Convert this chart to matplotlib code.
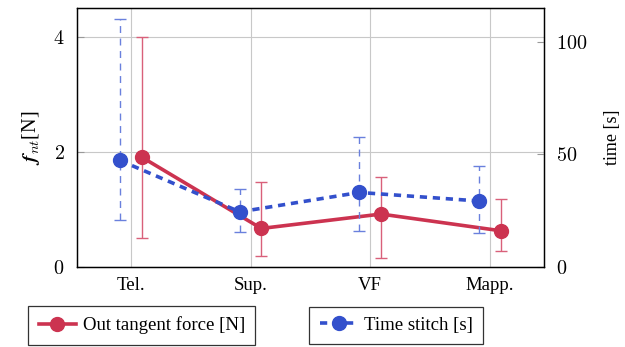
import matplotlib.pyplot as plt
from matplotlib.ticker import FuncFormatter
import numpy as np

plt.rcParams['font.family'] = ['Liberation Serif', 'DejaVu Serif']
plt.rcParams['mathtext.fontset'] = 'cm'

# ─── data ───
methods = ["Tel.", "Sup.", "VF", "Mapp."]
force_mean = [1.91, 0.67, 0.92, 0.63]
force_low = [0.50, 0.20, 0.16, 0.28]
force_high = [3.99, 1.48, 1.57, 1.19]
time_mean = [47.3, 24.5, 33.1, 29.3]
time_low = [21.0, 15.4, 16.1, 15.1]
time_high = [109.9, 34.7, 57.8, 44.9]

red = "#cc3350"
blue = "#3350cc"

fig = plt.figure(figsize=(6.25, 3.47), dpi=100)
ax = fig.add_axes([0.1232, 0.2305, 0.7468, 0.7465])
ax2 = ax.twinx()

x = np.arange(len(methods))
fm = np.array(force_mean)
tm = np.array(time_mean)

# force (left axis)
eb = ax.errorbar(x + 0.09, fm, yerr=[fm - np.array(force_low), np.array(force_high) - fm],
                 color=red, lw=2.6, marker="o", markersize=10, ecolor="#d9607a",
                 elinewidth=1.0, capsize=4, capthick=1.0, zorder=3)

# time (right axis)
eb2 = ax2.errorbar(x - 0.09, tm, yerr=[tm - np.array(time_low), np.array(time_high) - tm],
                   color=blue, lw=2.6, ls=(0, (2.0, 1.6)), marker="o", markersize=10,
                   ecolor="#6a80dd", elinewidth=1.0, capsize=4, capthick=1.0, zorder=3)
eb2[2][0].set_linestyle((0, (5, 4)))

ax.set_xlim(-0.45, 3.45)
ax.set_ylim(0, 4.5)
ax2.set_ylim(0, 115)
ax.set_xticks(x)
ax.set_xticklabels(methods)
ax.set_yticks([0, 2, 4])
ax2.set_yticks([0, 50, 100])
math_fmt = FuncFormatter(lambda v, p: r"$%d$" % v)
ax.yaxis.set_major_formatter(math_fmt)
ax2.yaxis.set_major_formatter(math_fmt)

ax.grid(True, color="#c8c8c8", lw=0.8)
ax.set_axisbelow(True)
for a in (ax, ax2):
    a.tick_params(axis="y", labelsize=14.5, direction="in", color="#999999", length=5, pad=9)
    for s in a.spines.values():
        s.set_linewidth(0.9)
ax.tick_params(axis="x", length=0, labelsize=13.5, pad=7)

ax.set_ylabel(r"$\mathbfit{f}_{nt}$[N]", fontsize=14.5, labelpad=8)
ax2.set_ylabel("time [s]", fontsize=13, labelpad=12)

leg_kw = dict(loc="center", fontsize=13.5, fancybox=False, edgecolor="#333333",
              framealpha=1, handlelength=2.0, handletextpad=0.35, borderpad=0.55)
leg1 = fig.legend([eb.lines[0]], ["Out tangent force [N]"],
                  bbox_to_anchor=(0.227, 0.062), **leg_kw)
leg2 = fig.legend([eb2.lines[0]], ["Time stitch [s]"],
                  bbox_to_anchor=(0.634, 0.062), **leg_kw)
for lg in (leg1, leg2):
    lg.get_frame().set_linewidth(0.9)

fig.savefig("out.png", dpi=100, facecolor="white")
